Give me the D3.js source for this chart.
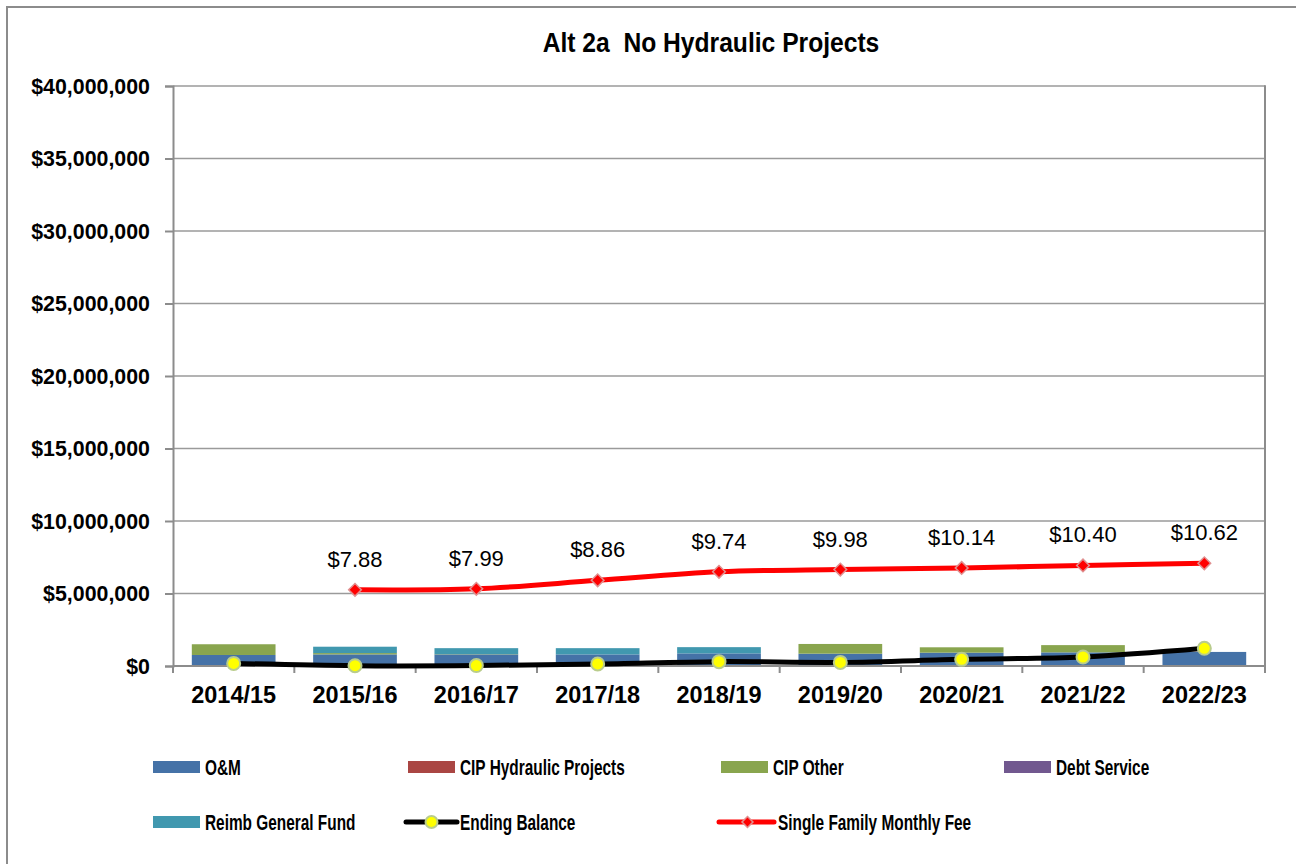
<!DOCTYPE html>
<html><head><meta charset="utf-8">
<script src="https://cdn.jsdelivr.net/npm/d3@7"></script>
<style>
html,body{margin:0;padding:0;background:#fff;}
svg{display:block;}
text{font-family:"Liberation Sans",Arial,sans-serif;fill:#000;}
</style></head>
<body>
<svg id="chart" width="1296" height="864"></svg>
<script>
const categories = ['2014/15','2015/16','2016/17','2017/18','2018/19','2019/20','2020/21','2021/22','2022/23'];
const omValues = [760000, 800000, 800000, 800000, 870000, 850000, 920000, 940000, 970000];
const cipHydraulicValues = [0, 0, 0, 0, 0, 0, 0, 0, 0];
const cipOtherValues = [740000, 90000, 20000, 0, 0, 670000, 370000, 500000, 0];
const debtServiceValues = [0, 0, 0, 0, 0, 0, 0, 0, 0];
const reimbGeneralFundValues = [0, 440000, 410000, 430000, 430000, 0, 0, 0, 0];
const endingBalanceValues = [180000, 20000, 30000, 140000, 300000, 250000, 460000, 620000, 1220000];
const monthlyFeeValues = [null, 7.88, 7.99, 8.86, 9.74, 9.98, 10.14, 10.40, 10.62];
const feeLabels = ['', '$7.88', '$7.99', '$8.86', '$9.74', '$9.98', '$10.14', '$10.40', '$10.62'];
const yTickValues = [0, 5000000, 10000000, 15000000, 20000000, 25000000, 30000000, 35000000, 40000000];
const seriesNames = ['O&M', 'CIP Hydraulic Projects', 'CIP Other', 'Debt Service', 'Reimb General Fund'];
const seriesColors = ['#4572A7', '#AA4643', '#89A54E', '#71588F', '#4198AF'];
const titleText = 'Alt 2a  No Hydraulic Projects';

const svg = d3.select('#chart');
const plot = {left: 173, right: 1265, top: 86, bottom: 666};

// horizontally condense a text selection (keeps its anchor point in place)
function condense(sel, sx) {
  sel.each(function () {
    const t = d3.select(this);
    const x0 = +t.attr('x') || 0;
    t.attr('x', x0 / sx).attr('transform', `scale(${sx},1)`);
  });
}

// outer border
svg.append('rect').attr('x', 7).attr('y', 7).attr('width', 1300).attr('height', 870)
  .attr('fill', 'none').attr('stroke', '#8c8c8c').attr('stroke-width', 2);

svg.append('text').attr('x', 711).attr('y', 52).attr('text-anchor', 'middle')
  .style('white-space', 'pre').attr('xml:space', 'preserve')
  .attr('font-size', 28).attr('font-weight', 'bold').text(titleText)
  .call(condense, 0.88);

const x = d3.scaleBand().domain(categories).range([plot.left, plot.right])
  .paddingInner(0.31).paddingOuter(0.155);
const y = d3.scaleLinear().domain([0, 40000000]).range([plot.bottom, plot.top]);
const y2 = d3.scaleLinear().domain([0, 60]).range([plot.bottom, plot.top]);

// gridlines
svg.append('g').selectAll('line').data(yTickValues.filter(v => v > 0)).join('line')
  .attr('x1', plot.left).attr('x2', plot.right)
  .attr('y1', d => y(d)).attr('y2', d => y(d))
  .attr('stroke', '#9a9a9a').attr('stroke-width', 1.5);
// right frame
svg.append('line').attr('x1', plot.right).attr('x2', plot.right).attr('y1', plot.top - 0.75).attr('y2', plot.bottom)
  .attr('stroke', '#8c8c8c').attr('stroke-width', 2);

// stacked bars
const table = categories.map((c, i) => ({
  cat: c,
  'O&M': omValues[i],
  'CIP Hydraulic Projects': cipHydraulicValues[i],
  'CIP Other': cipOtherValues[i],
  'Debt Service': debtServiceValues[i],
  'Reimb General Fund': reimbGeneralFundValues[i]
}));
const stack = d3.stack().keys(seriesNames)(table);
const gBars = svg.append('g');
stack.forEach((layer, li) => {
  gBars.selectAll(null).data(layer).join('rect')
    .attr('x', d => x(d.data.cat))
    .attr('width', x.bandwidth())
    .attr('y', d => y(d[1]))
    .attr('height', d => Math.max(0, y(d[0]) - y(d[1])))
    .attr('fill', seriesColors[li]);
});

// y axis
const yAxis = d3.axisLeft(y).tickValues(yTickValues).tickSize(8).tickPadding(15)
  .tickFormat(d => '$' + d3.format(',')(d));
const gy = svg.append('g').attr('transform', `translate(${plot.left},0)`).call(yAxis);
gy.select('.domain').attr('stroke', '#8c8c8c').attr('stroke-width', 2);
gy.selectAll('.tick line').attr('stroke', '#8c8c8c').attr('stroke-width', 2);
gy.selectAll('.tick text').attr('font-size', 22.5).attr('font-weight', 'bold')
  .attr('font-family', '"Liberation Sans",Arial,sans-serif').attr('fill', '#000')
  .call(condense, 0.95);

// x axis
const xAxis = d3.axisBottom(x).tickSize(0).tickPadding(0);
const gx = svg.append('g').attr('transform', `translate(0,${plot.bottom})`).call(xAxis);
gx.select('.domain').remove();
gx.selectAll('.tick text').attr('font-size', 23.5).attr('font-weight', 'bold')
  .attr('font-family', '"Liberation Sans",Arial,sans-serif').attr('fill', '#000')
  .attr('y', 37).attr('dy', 0);
svg.append('line').attr('x1', plot.left).attr('x2', plot.right).attr('y1', plot.bottom).attr('y2', plot.bottom)
  .attr('stroke', '#8c8c8c').attr('stroke-width', 2);
const gap = (x.step() - x.bandwidth()) / 2;
const bounds = categories.map(c => x(c) - gap).concat([x(categories[categories.length - 1]) + x.bandwidth() + gap]);
svg.append('g').selectAll('line').data(bounds).join('line')
  .attr('x1', d => d).attr('x2', d => d).attr('y1', plot.bottom).attr('y2', plot.bottom + 7)
  .attr('stroke', '#8c8c8c').attr('stroke-width', 2);

const cx = c => x(c) + x.bandwidth() / 2;

// ending balance line
const ebData = categories.map((c, i) => ({c, v: endingBalanceValues[i]}));
svg.append('path').datum(ebData)
  .attr('d', d3.line().x(d => cx(d.c)).y(d => y(d.v)).curve(d3.curveCatmullRom.alpha(0)))
  .attr('fill', 'none').attr('stroke', '#000').attr('stroke-width', 5);
svg.append('g').selectAll('circle').data(ebData).join('circle')
  .attr('cx', d => cx(d.c)).attr('cy', d => y(d.v)).attr('r', 6.5)
  .attr('fill', '#FFFF00').attr('stroke', '#b9cc8c').attr('stroke-width', 2);

// fee line (secondary axis, hidden)
const feeData = categories.map((c, i) => ({c, v: monthlyFeeValues[i], label: feeLabels[i]})).filter(d => d.v != null);
svg.append('path').datum(feeData)
  .attr('d', d3.line().x(d => cx(d.c)).y(d => y2(d.v)).curve(d3.curveCatmullRom.alpha(0)))
  .attr('fill', 'none').attr('stroke', '#FF0000').attr('stroke-width', 5);
svg.append('g').selectAll('path').data(feeData).join('path')
  .attr('transform', d => `translate(${cx(d.c)},${y2(d.v)}) rotate(45)`)
  .attr('d', d3.symbol().type(d3.symbolSquare).size(80))
  .attr('fill', '#FF0000').attr('stroke', '#e09090').attr('stroke-width', 1.5);
svg.append('g').selectAll('text').data(feeData).join('text')
  .attr('x', d => cx(d.c)).attr('y', d => y2(d.v) - 23).attr('text-anchor', 'middle')
  .attr('font-size', 22).text(d => d.label);

// legend
const legendItems = [
  {name: 'O&M', type: 'bar', color: seriesColors[0], x: 153, y: 767},
  {name: 'CIP Hydraulic Projects', type: 'bar', color: seriesColors[1], x: 408, y: 767},
  {name: 'CIP Other', type: 'bar', color: seriesColors[2], x: 721, y: 767},
  {name: 'Debt Service', type: 'bar', color: seriesColors[3], x: 1004, y: 767},
  {name: 'Reimb General Fund', type: 'bar', color: seriesColors[4], x: 153, y: 822},
  {name: 'Ending Balance', type: 'eb', x: 406, y: 822},
  {name: 'Single Family Monthly Fee', type: 'fee', x: 719, y: 822}
];
const gl = svg.append('g');
const legendText = (tx, ty, name) => gl.append('text').attr('x', tx).attr('y', ty)
  .attr('font-size', 22).attr('font-weight', 'bold').text(name).call(condense, 0.7);
legendItems.forEach(it => {
  if (it.type === 'bar') {
    gl.append('rect').attr('x', it.x).attr('y', it.y - 6).attr('width', 47).attr('height', 12).attr('fill', it.color);
    legendText(it.x + 52, it.y + 8, it.name);
  } else if (it.type === 'eb') {
    gl.append('line').attr('x1', it.x).attr('x2', it.x + 51).attr('y1', it.y).attr('y2', it.y)
      .attr('stroke', '#000').attr('stroke-width', 5).attr('stroke-linecap', 'round');
    gl.append('circle').attr('cx', it.x + 25.5).attr('cy', it.y).attr('r', 6)
      .attr('fill', '#FFFF00').attr('stroke', '#b9cc8c').attr('stroke-width', 2);
    legendText(it.x + 54, it.y + 8, it.name);
  } else {
    gl.append('line').attr('x1', it.x).attr('x2', it.x + 55).attr('y1', it.y).attr('y2', it.y)
      .attr('stroke', '#FF0000').attr('stroke-width', 5).attr('stroke-linecap', 'round');
    gl.append('path').attr('transform', `translate(${it.x + 28.5},${it.y}) rotate(45)`)
      .attr('d', d3.symbol().type(d3.symbolSquare).size(60))
      .attr('fill', '#FF0000').attr('stroke', '#e09090').attr('stroke-width', 1.5);
    legendText(it.x + 59, it.y + 8, it.name);
  }
});
</script>
</body></html>
